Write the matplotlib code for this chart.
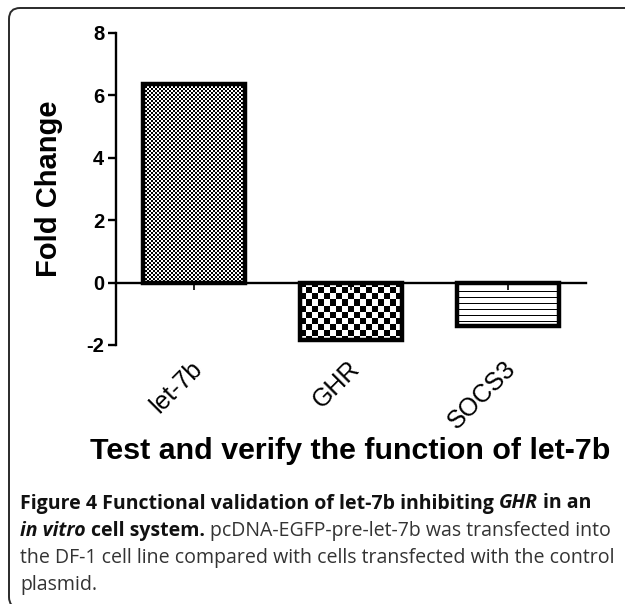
import matplotlib
matplotlib.use('Agg')
import numpy as np
import matplotlib.pyplot as plt
import matplotlib.transforms as mtransforms
from matplotlib.patches import FancyBboxPatch

# ---------------- data ----------------
categories = ["let-7b", "GHR", "SOCS3"]
fold_change = [6.35, -1.85, -1.38]
y_ticks = [-2, 0, 2, 4, 6, 8]
y_label = "Fold Change"
x_title = "Test and verify the function of let-7b"
caption_lines = [
    [("Figure 4 Functional validation of let-7b inhibiting", "bold", "normal"),
     ("GHR", "bold", "italic"),
     ("in an", "bold", "normal")],
    [("in vitro", "bold", "italic"),
     ("cell system.", "bold", "normal"),
     ("pcDNA-EGFP-pre-let-7b was transfected into", "normal", "normal")],
    [("the DF-1 cell line compared with cells transfected with the control", "normal", "normal")],
    [("plasmid.", "normal", "normal")],
]
patterns = ["fine_checker", "coarse_checker", "hlines"]

# ---------------- figure ----------------
W, H = 625, 604
fig = plt.figure(figsize=(W / 100, H / 100), dpi=100)
fig.patch.set_facecolor("white")

# rounded frame (partially off-canvas on right/bottom like the reference)
frame = FancyBboxPatch((9, -4), 640, 600, boxstyle="round,pad=0,rounding_size=11",
                       transform=mtransforms.IdentityTransform(), fill=False,
                       edgecolor="#2a2a2a", linewidth=1.4)
fig.patches.append(frame)

ax_left, ax_right, ax_top, ax_bottom = 116, 586, 33, 345
ax = fig.add_axes([ax_left / W, 1 - ax_bottom / H, (ax_right - ax_left) / W, (ax_bottom - ax_top) / H])
ax.set_facecolor("none")

x = np.arange(len(categories))
bars = ax.bar(x, fold_change, width=0.65, facecolor="none", edgecolor="black",
              linewidth=3.2, zorder=3)
ax.set_xlim(-0.5, 2.5)
ax.set_ylim(-2, 8)

for s in ["top", "right"]:
    ax.spines[s].set_visible(False)
ax.spines["bottom"].set_position(("data", 0))
ax.spines["left"].set_linewidth(1.7)
ax.spines["bottom"].set_linewidth(1.7)
ax.set_axisbelow(False)

ax.set_yticks(y_ticks)
ax.set_yticklabels([str(t) for t in y_ticks])
ax.tick_params(axis="y", direction="out", length=5.5, width=1.7, pad=3,
               labelsize=14.5)
for lab in ax.get_yticklabels():
    lab.set_fontweight("bold")
    lab.set_family("Liberation Sans")
ax.set_xticks(x)
ax.tick_params(axis="x", direction="out", length=5, width=1.2, labelbottom=False)

ax.set_ylabel(y_label, fontsize=21, fontweight="bold", family="Liberation Sans")
ax.yaxis.set_label_coords(-(ax_left - 63) / (ax_right - ax_left), 0.5)

# category labels, rotated, under the plot area
for i, name in enumerate(categories):
    tr = mtransforms.offset_copy(ax.get_xaxis_transform(), fig=fig, x=-4, y=-11, units="dots")
    ax.text(i, 0, name, transform=tr, rotation=45, ha="right", va="top",
            rotation_mode="anchor", fontsize=18, family="Liberation Sans")

# pattern fills (clipped to each bar)
fig.canvas.draw()
renderer = fig.canvas.get_renderer()

def make_pattern(kind, nx, ny):
    jj, ii = np.meshgrid(np.arange(nx), np.arange(ny))
    if kind == "fine_checker":
        return ((ii // 2 + jj // 2) % 2).astype(float)
    if kind == "coarse_checker":
        return ((ii // 6 + jj // 6) % 2).astype(float)
    arr = np.ones((ny, nx))
    arr[(ii % 6) == 3] = 0.0
    return arr

inv = ax.transData.inverted()
for b, kind in zip(bars, patterns):
    x0, y0 = b.get_x(), b.get_y()
    x1, y1 = x0 + b.get_width(), y0 + b.get_height()
    (px0, py0), (px1, py1) = ax.transData.transform([(x0, min(y0, y1)), (x1, max(y0, y1))])
    px0, px1 = np.floor(px0), np.ceil(px1)
    py0, py1 = np.floor(py0), np.ceil(py1)
    nx, ny = int(px1 - px0), int(py1 - py0)
    (dx0, dy0), (dx1, dy1) = inv.transform([(px0, py0), (px1, py1)])
    img = ax.imshow(make_pattern(kind, nx, ny), cmap="gray", vmin=0, vmax=1,
                    extent=(dx0, dx1, dy0, dy1), origin="upper",
                    interpolation="nearest", aspect="auto", zorder=2)
    img.set_clip_path(b)
ax.set_xlim(-0.5, 2.5)
ax.set_ylim(-2, 8)

# x axis title, fitted to measured width
title = fig.text(350.5 / W, 1 - 459 / H, x_title, ha="center", va="baseline",
                 fontsize=22, fontweight="bold", family="Liberation Sans")
fig.canvas.draw()
w = title.get_window_extent(renderer).width
title.set_fontsize(22 * 521 / w)

# caption
cap_font = "Open Sans"
probe = fig.text(0, 0, caption_lines[2][0][0], fontsize=13, family=cap_font)
fig.canvas.draw()
pw = probe.get_window_extent(renderer).width
probe.remove()
cap_size = 13 * 591 / pw

def text_width(s, weight, style):
    t = fig.text(0, 0, s, fontsize=cap_size, family=cap_font, fontweight=weight, fontstyle=style)
    fig.canvas.draw()
    ww = t.get_window_extent(renderer).width
    t.remove()
    return ww

baselines = [508.5, 536, 563, 590]
for line, yb in zip(caption_lines, baselines):
    xp = 20.0
    for k, (s, weight, style) in enumerate(line):
        if k > 0:
            xp += text_width("a a", weight, "normal") - text_width("aa", weight, "normal")
        color = "#111111" if weight == "bold" else "#333333"
        t = fig.text(xp / W, 1 - yb / H, s, ha="left", va="baseline", fontsize=cap_size,
                     family=cap_font, fontweight=weight, fontstyle=style, color=color)
        fig.canvas.draw()
        xp = t.get_window_extent(renderer).x1

fig.savefig("out.png", dpi=100)
